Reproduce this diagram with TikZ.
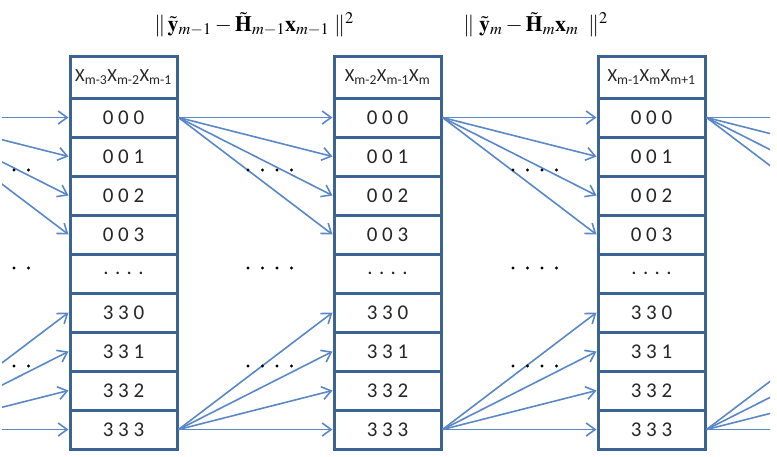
\documentclass[tikz,border=0pt]{standalone}
\usepackage{amsmath}
\usepackage{mathptmx}
\usepackage[no-math]{fontspec}
\setsansfont{Carlito}
\usetikzlibrary{arrows.meta}
\definecolor{ink}{HTML}{262626}
\definecolor{frame}{HTML}{3B6396}
\definecolor{linkblue}{HTML}{5A88C6}

\begin{document}
\begin{tikzpicture}[font=\sffamily,text=ink,x=1pt,y=-1pt,
    >={Straight Barb[length=9pt,width=13pt]},
    cell/.style={draw=frame,line width=3pt,minimum width=107pt,minimum height=39pt,
      inner sep=0pt,outer sep=1.5pt,font=\sffamily\fontsize{21}{24}\selectfont},
    head/.style={cell,minimum height=42pt,font=\sffamily\fontsize{18.5}{22}\selectfont},
    link/.style={->,draw=linkblue,line width=1.6pt},
    cost/.style={anchor=base,text=black,font=\fontsize{22}{26}\selectfont}]
  \useasboundingbox (0,0) rectangle (777,456);
  % cost terms
  \node[cost] (cost1) at (254,31)
    {$\|\,\tilde{\mathbf{y}}_{m-1}-\tilde{\mathbf{H}}_{m-1}\mathbf{x}_{m-1}\;\|^2$};
  \node[cost] (cost2) at (535.5,31)
    {$\|\;\tilde{\mathbf{y}}_{m}-\tilde{\mathbf{H}}_{m}\mathbf{x}_{m}\;\;\|^2$};
  % state columns
  \foreach \col/\x/\hd in {A/123.5/{X\textsubscript{m-3}X\textsubscript{m-2}X\textsubscript{m-1}},
                           B/387.5/{X\textsubscript{m-2}X\textsubscript{m-1}X\textsubscript{m}},
                           C/651.5/{X\textsubscript{m-1}X\textsubscript{m}X\textsubscript{m+1}}} {
    \node[head] (\col h) at (\x,77) {\hd};
    \foreach \lbl [count=\row from 0] in {0 0 0,0 0 1,0 0 2,0 0 3,. . . .,3 3 0,3 3 1,3 3 2,3 3 3}
      \node[cell] (\col\row) at (\x,117.5+39*\row) {\lbl};
  }
  % transitions between the columns
  \foreach \a/\b in {A/B,B/C} {
    \foreach \row in {0,...,3} \draw[link] (\a0.east) -- (\b\row.west);
    \foreach \row in {5,...,8} \draw[link] (\a8.east) -- (\b\row.west);
  }
  % transitions cut by the picture edge
  \coordinate (P0) at (-86,117.5);
  \coordinate (P8) at (-86,429.5);
  \foreach \row in {0,...,8} \coordinate (N\row) at (861,117.5+39*\row);
  \begin{scope}
    \clip (2,0) rectangle (770,456);
    \foreach \row in {0,...,3} \draw[link] (P0) -- (A\row.west);
    \foreach \row in {5,...,8} \draw[link] (P8) -- (A\row.west);
    \foreach \row in {0,...,3} \draw[link,-] (C0.east) -- (N\row);
    \foreach \row in {5,...,8} \draw[link,-] (C8.east) -- (N\row);
    \foreach \x in {-86,177,442,705}
      \foreach \y in {170,268,366}
        \foreach \d in {71,85.5,100,114.5}
          \fill[black] (\x+\d,\y) circle (1.6pt);
  \end{scope}
\end{tikzpicture}
\end{document}
